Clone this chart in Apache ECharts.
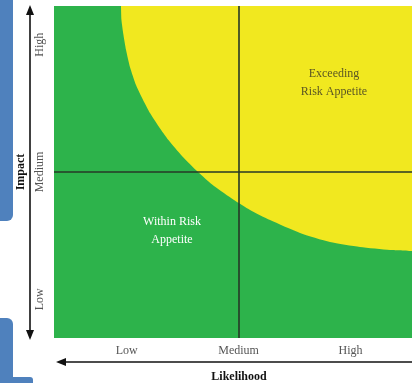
<!DOCTYPE html>
<html>
<head>
<meta charset="utf-8">
<script src="https://cdn.jsdelivr.net/npm/echarts@6/dist/echarts.min.js"></script>
<style>
  html, body { margin: 0; padding: 0; background: #ffffff; }
  #chart { width: 412px; height: 383px; }
</style>
</head>
<body>
<div id="chart"></div>
<script>
// Risk appetite map: likelihood (x) versus impact (y)
const likelihoodLabels = ['Low', 'Medium', 'High'];
const likelihoodTicks = [0.65, 1.65, 2.65];
const impactLabels = ['Low', 'Medium', 'High'];
const impactTicks = [0.35, 1.5, 2.65];

// Dividing lines between the low / medium / high bands
const likelihoodMid = 1.65;
const impactMid = 1.5;

// Risk appetite boundary (likelihood, impact); everything above/right exceeds appetite
const appetiteBoundary = [
  [0.599, 3.0],
  [0.603, 2.873],
  [0.621, 2.738],
  [0.644, 2.602],
  [0.679, 2.449],
  [0.733, 2.286],
  [0.796, 2.151],
  [0.858, 2.033],
  [0.939, 1.907],
  [1.023, 1.789],
  [1.144, 1.645],
  [1.287, 1.500],
  [1.430, 1.373],
  [1.609, 1.247],
  [1.752, 1.157],
  [1.931, 1.066],
  [2.199, 0.949],
  [2.467, 0.867],
  [2.735, 0.822],
  [3.003, 0.795],
  [3.2, 0.786]
];

const regionNames = ['Exceeding\nRisk Appetite', 'Within Risk\nAppetite'];
const axisNames = ['Likelihood', 'Impact'];

const SERIF = '"Liberation Serif", "DejaVu Serif", serif';

function tickName(ticks, labels, v) {
  for (let i = 0; i < ticks.length; i++) {
    if (Math.abs(ticks[i] - v) < 1e-6) return labels[i];
  }
  return '';
}

const chart = echarts.init(document.getElementById('chart'), null, { renderer: 'canvas' });

const option = {
  animation: false,
  backgroundColor: '#ffffff',
  grid: {
    left: 54, top: 6, right: 0, bottom: 45,
    outerBoundsMode: 'none',
    containLabel: false,
    show: true, backgroundColor: '#2db34b', borderWidth: 0
  },
  xAxis: {
    type: 'value', min: 0, max: 3.2,
    name: axisNames[0], nameLocation: 'middle', nameGap: 33, nameMoveOverlap: false,
    nameTextStyle: { fontFamily: SERIF, fontSize: 12, fontWeight: 'bold', color: '#111', padding: [0, 0, 0, 12] },
    axisLine: { show: false }, axisTick: { show: false }, splitLine: { show: false },
    axisLabel: {
      customValues: likelihoodTicks,
      formatter: v => tickName(likelihoodTicks, likelihoodLabels, v),
      fontFamily: SERIF, fontSize: 12, color: '#555', margin: 7
    }
  },
  yAxis: {
    type: 'value', min: 0, max: 3,
    name: axisNames[1], nameLocation: 'middle', nameGap: 27, nameRotate: 90, nameMoveOverlap: false,
    nameTextStyle: { fontFamily: SERIF, fontSize: 12, fontWeight: 'bold', color: '#111' },
    axisLine: { show: false }, axisTick: { show: false }, splitLine: { show: false },
    axisLabel: {
      customValues: impactTicks,
      formatter: v => tickName(impactTicks, impactLabels, v),
      rotate: 90,
      fontFamily: SERIF, fontSize: 12, color: '#555', margin: 8
    }
  },
  series: [{
    type: 'line',
    data: appetiteBoundary,
    smooth: 0.2,
    symbol: 'none',
    lineStyle: { width: 0 },
    areaStyle: { origin: 'end', color: '#f1e81f', opacity: 1 },
    markLine: {
      silent: true,
      symbol: ['none', 'none'],
      label: { show: false },
      lineStyle: { color: '#263826', width: 1.6, type: 'solid' },
      data: [{ xAxis: likelihoodMid }, { yAxis: impactMid }]
    }
  }],
  graphic: [
    // decorative side panels
    { type: 'rect', z: -1, shape: { x: -10, y: -10, width: 23, height: 231, r: 6 }, style: { fill: '#4f81bd' }, silent: true },
    { type: 'rect', z: -1, shape: { x: -10, y: 318, width: 23, height: 80, r: 6 }, style: { fill: '#4f81bd' }, silent: true },
    { type: 'rect', z: -1, shape: { x: -10, y: 377, width: 43, height: 20, r: 3 }, style: { fill: '#4f81bd' }, silent: true },
    // impact arrow (both directions)
    { type: 'line', z: 100, shape: { x1: 30, y1: 14, x2: 30, y2: 331 }, style: { stroke: '#111', lineWidth: 1.6 }, silent: true },
    { type: 'polygon', z: 100, shape: { points: [[30, 5], [26, 15], [34, 15]] }, style: { fill: '#111' }, silent: true },
    { type: 'polygon', z: 100, shape: { points: [[30, 340], [26, 330], [34, 330]] }, style: { fill: '#111' }, silent: true },
    // likelihood arrow
    { type: 'line', z: 100, shape: { x1: 65, y1: 362, x2: 412, y2: 362 }, style: { stroke: '#111', lineWidth: 1.6 }, silent: true },
    { type: 'polygon', z: 100, shape: { points: [[56, 362], [66, 358], [66, 366]] }, style: { fill: '#111' }, silent: true },
    // region captions
    { type: 'text', z: 100, x: 334, y: 83, silent: true,
      style: { text: regionNames[0], fill: '#5b5624', font: '12px ' + SERIF, align: 'center', verticalAlign: 'middle', lineHeight: 18 } },
    { type: 'text', z: 100, x: 172, y: 231, silent: true,
      style: { text: regionNames[1], fill: '#ffffff', font: '12px ' + SERIF, align: 'center', verticalAlign: 'middle', lineHeight: 18 } }
  ]
};

chart.setOption(option);
</script>
</body>
</html>
